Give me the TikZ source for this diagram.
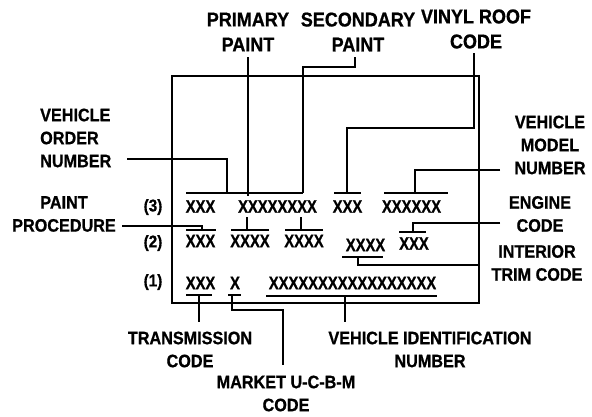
\documentclass[tikz,border=0pt]{standalone}
\usepackage{fontspec}
\newfontfamily\labfont{Liberation Sans}[FakeStretch=0.9,BoldFeatures={FakeBold=0.8}]
\newfontfamily\xfont{Liberation Sans}[FakeStretch=0.82,BoldFeatures={FakeBold=0.8}]
\begin{document}
\begin{tikzpicture}[x=1pt,y=-1pt,
  lab/.style={font=\labfont\bfseries\fontsize{18}{23}\selectfont,align=center,inner sep=0pt},
  labtop/.style={lab,font=\labfont\bfseries\fontsize{20}{25}\selectfont},
  labl/.style={lab,align=left},
  xx/.style={font=\xfont\bfseries\fontsize{18}{23}\selectfont,inner sep=0pt},
  row/.style={font=\labfont\bfseries\fontsize{17}{20}\selectfont,inner sep=0pt},
  ln/.style={line width=2pt},
  bar/.style={line width=2pt}]
\useasboundingbox (0,0) rectangle (592,416);
% frame
\draw[ln] (172,76) rectangle (479,303);
% labels
\node[labtop] (primary) at (248,32) {PRIMARY\\PAINT};
\node[labtop] (secondary) at (358,32) {SECONDARY\\PAINT};
\node[labtop] (vinyl) at (476,29) {VINYL ROOF\\CODE};
\node[labl,anchor=west] (order) at (40,138) {VEHICLE\\ORDER\\NUMBER};
\node[lab] (model) at (550,145) {VEHICLE\\MODEL\\NUMBER};
\node[lab] (paintproc) at (64,214) {PAINT\\PROCEDURE};
\node[lab] (engine) at (540,214) {ENGINE\\CODE};
\node[lab] (interior) at (537,263) {INTERIOR\\TRIM CODE};
\node[lab] (trans) at (190,349.5) {TRANSMISSION\\CODE};
\node[lab] (market) at (286,393.5) {MARKET U-C-B-M\\CODE};
\node[lab] (vin) at (430,349.5) {VEHICLE IDENTIFICATION\\NUMBER};
% row labels
\node[row] (r3) at (153,207) {(3)};
\node[row] (r2) at (153,243) {(2)};
\node[row] (r1) at (153,282) {(1)};
% codes
\node[xx] (c3a) at (200.5,206.5) {XXX};
\node[xx] (c3b) at (277.5,206.5) {XXXXXXXX};
\node[xx] (c3c) at (347.5,206.5) {XXX};
\node[xx] (c3d) at (411.5,206.5) {XXXXXX};
\node[xx] (c2a) at (200.5,241) {XXX};
\node[xx] (c2b) at (250,241) {XXXX};
\node[xx] (c2c) at (304,241) {XXXX};
\node[xx] (c2d) at (365.5,245) {XXXX};
\node[xx] (c2e) at (414,243.5) {XXX};
\node[xx] (c1a) at (200.5,283) {XXX};
\node[xx] (c1b) at (235,283) {X};
\node[xx] (c1c) at (352.5,283) {XXXXXXXXXXXXXXXXX};
% bars
\draw[bar] (186,193) -- (303,193);
\draw[bar] (334,193) -- (361,193);
\draw[bar] (384,193) -- (448,193);
\draw[bar] (186,230) -- (216,230);
\draw[bar] (231,230) -- (269,230);
\draw[bar] (285,230) -- (323,230);
\draw[bar] (399,232) -- (426,232);
\draw[bar] (342,257) -- (383,257);
\draw[bar] (186,295) -- (212,295);
\draw[bar] (228,295) -- (241,295);
\draw[bar] (266,296) -- (437,296);
% connectors
\draw[ln] (127,159) -- (227,159) -- (227,193);
\draw[ln] (248,57) -- (248,196);
\draw[ln] (355,57) -- (355,67) -- (303,67) -- (303,193);
\draw[ln] (474,53) -- (474,128) -- (347,128) -- (347,193);
\draw[ln] (500,170) -- (415,170) -- (415,193);
\draw[ln] (122,226) -- (202,226) -- (202,230);
\draw[ln] (247,217) -- (247,230);
\draw[ln] (301,217) -- (301,230);
\draw[ln] (500,223) -- (413,223) -- (413,232);
\draw[ln] (479,265) -- (358,265) -- (358,257);
\draw[ln] (199,295) -- (199,322);
\draw[ln] (232,295) -- (232,310) -- (283,310) -- (283,365);
\draw[ln] (345,296) -- (345,322);
\end{tikzpicture}
\end{document}
